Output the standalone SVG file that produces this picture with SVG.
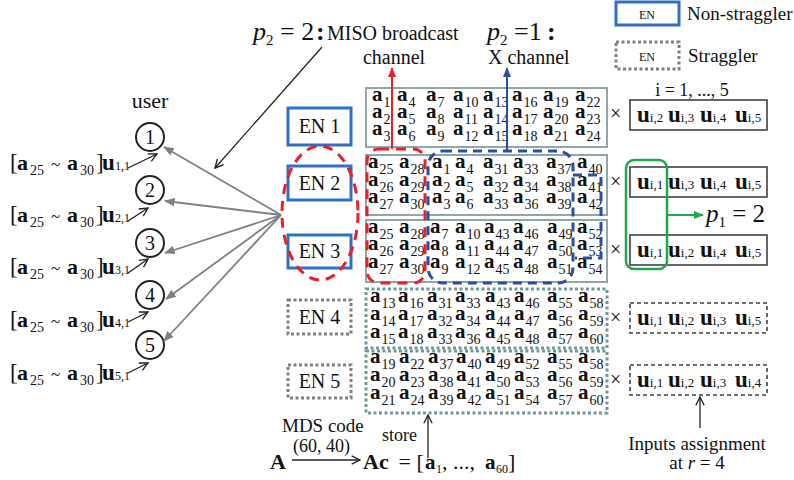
<svg xmlns="http://www.w3.org/2000/svg" width="794" height="480" viewBox="0 0 794 480" font-family="Liberation Serif, Times New Roman, DejaVu Serif, serif">
<defs>
<style>
text{font-family:"Liberation Serif","Times New Roman","DejaVu Serif",serif;fill:#111}
.g text{font-weight:bold;font-size:21px}
.g tspan{font-weight:normal;font-size:14px}
.en{fill:#fff;stroke:#2e72c2;stroke-width:3}
.st{fill:#fff;stroke:#808080;stroke-width:3;stroke-dasharray:3 2.5}
.ent{font-size:20px;text-anchor:middle}
.grid{fill:#fff;stroke:#8ea8a8;stroke-width:2}
.gridd{fill:#fff;stroke:#6f9999;stroke-width:3;stroke-dasharray:3 2.5}
.ub{fill:#fff;stroke:#404040;stroke-width:1.6}
.ubd{fill:#fff;stroke:#404040;stroke-width:1.6;stroke-dasharray:4 3}
.u text{font-weight:bold;font-size:23px}
.u tspan{font-weight:normal;font-size:13px}
.times{font-size:20px}
.lab{font-size:23px}
.lab .ab{font-weight:bold;font-size:22px}
.lab .sb{font-size:14px}
.lab .tl{font-size:17px}
.lab .ubo{font-weight:bold;font-size:23px}
.lab .su{font-size:12px}
.gray{stroke:#808080;stroke-width:1.8;fill:none}
.blk{stroke:#222;stroke-width:1.3;fill:none}
</style>
<marker id="mg" viewBox="0 0 10 10" refX="9" refY="5" markerWidth="6" markerHeight="6" orient="auto"><path d="M0,1 L10,5 L0,9 z" fill="#808080"/></marker>
<marker id="mk" viewBox="0 0 10 10" refX="9" refY="5" markerWidth="8" markerHeight="8" orient="auto"><path d="M1,1 L9,5 L1,9" fill="none" stroke="#222" stroke-width="1.3"/></marker>
<marker id="mr" viewBox="0 0 10 10" refX="9" refY="5" markerWidth="5" markerHeight="5" orient="auto"><path d="M0,1 L10,5 L0,9 z" fill="#e8202a"/></marker>
<marker id="mb" viewBox="0 0 10 10" refX="9" refY="5" markerWidth="5" markerHeight="5" orient="auto"><path d="M0,1 L10,5 L0,9 z" fill="#2a4ea6"/></marker>
<marker id="mgr" viewBox="0 0 10 10" refX="9" refY="5" markerWidth="5" markerHeight="5" orient="auto"><path d="M0,1 L10,5 L0,9 z" fill="#1faa4a"/></marker>
</defs>
<rect width="794" height="480" fill="#fff"/>

<!-- legend -->
<g id="legend">
<rect x="616" y="2" width="63" height="23" class="en"/>
<text x="647" y="19" text-anchor="middle" font-size="12">EN</text>
<text x="687" y="20" font-size="19">Non-straggler</text>
<rect x="616" y="42" width="63" height="27" class="st"/>
<text x="647" y="61" text-anchor="middle" font-size="12">EN</text>
<text x="688" y="62" font-size="19">Straggler</text>
</g>

<!-- top labels -->
<g id="labels">
<text y="40" font-size="26"><tspan x="253" font-style="italic">p</tspan><tspan font-size="15" dy="5">2</tspan><tspan dy="-5"> = 2</tspan><tspan x="316" font-weight="bold">:</tspan><tspan x="327" font-size="20">MISO broadcast</tspan></text>
<text x="394" y="64" font-size="20" text-anchor="middle">channel</text>
<text y="40" font-size="26"><tspan x="487" font-style="italic">p</tspan><tspan font-size="15" dy="5">2</tspan><tspan dy="-5"> =1</tspan><tspan x="547" font-weight="bold">:</tspan></text>
<text x="488" y="64" font-size="20">X channel</text>
<text x="150" y="108" font-size="22" text-anchor="middle">user</text>
</g>

<!-- users -->
<g id="user1"><circle cx="150" cy="137" r="14" fill="#fff" stroke="#222" stroke-width="2"/><text x="150" y="144" font-size="20" text-anchor="middle">1</text></g>
<g id="user2"><circle cx="150" cy="190" r="14" fill="#fff" stroke="#222" stroke-width="2"/><text x="150" y="197" font-size="20" text-anchor="middle">2</text></g>
<g id="user3"><circle cx="150" cy="243" r="14" fill="#fff" stroke="#222" stroke-width="2"/><text x="150" y="250" font-size="20" text-anchor="middle">3</text></g>
<g id="user4"><circle cx="150" cy="295" r="14" fill="#fff" stroke="#222" stroke-width="2"/><text x="150" y="302" font-size="20" text-anchor="middle">4</text></g>
<g id="user5"><circle cx="150" cy="345" r="14" fill="#fff" stroke="#222" stroke-width="2"/><text x="150" y="352" font-size="20" text-anchor="middle">5</text></g>

<!-- user labels -->
<g id="ulabels" class="lab">
<text y="170"><tspan x="10">[</tspan><tspan x="17" class="ab">a</tspan><tspan x="30" dy="5" class="sb">25</tspan><tspan x="51" dy="-5" class="tl">~</tspan><tspan x="67" class="ab">a</tspan><tspan x="80" dy="5" class="sb">30</tspan><tspan x="96" dy="-5">]</tspan><tspan x="102" class="ubo">u</tspan><tspan x="115" class="su">1,1</tspan></text>
<text y="222"><tspan x="10">[</tspan><tspan x="17" class="ab">a</tspan><tspan x="30" dy="5" class="sb">25</tspan><tspan x="51" dy="-5" class="tl">~</tspan><tspan x="67" class="ab">a</tspan><tspan x="80" dy="5" class="sb">30</tspan><tspan x="96" dy="-5">]</tspan><tspan x="102" class="ubo">u</tspan><tspan x="115" class="su">2,1</tspan></text>
<text y="274"><tspan x="10">[</tspan><tspan x="17" class="ab">a</tspan><tspan x="30" dy="5" class="sb">25</tspan><tspan x="51" dy="-5" class="tl">~</tspan><tspan x="67" class="ab">a</tspan><tspan x="80" dy="5" class="sb">30</tspan><tspan x="96" dy="-5">]</tspan><tspan x="102" class="ubo">u</tspan><tspan x="115" class="su">3,1</tspan></text>
<text y="327"><tspan x="10">[</tspan><tspan x="17" class="ab">a</tspan><tspan x="30" dy="5" class="sb">25</tspan><tspan x="51" dy="-5" class="tl">~</tspan><tspan x="67" class="ab">a</tspan><tspan x="80" dy="5" class="sb">30</tspan><tspan x="96" dy="-5">]</tspan><tspan x="102" class="ubo">u</tspan><tspan x="115" class="su">4,1</tspan></text>
<text y="380"><tspan x="10">[</tspan><tspan x="17" class="ab">a</tspan><tspan x="30" dy="5" class="sb">25</tspan><tspan x="51" dy="-5" class="tl">~</tspan><tspan x="67" class="ab">a</tspan><tspan x="80" dy="5" class="sb">30</tspan><tspan x="96" dy="-5">]</tspan><tspan x="102" class="ubo">u</tspan><tspan x="115" class="su">5,1</tspan></text>
</g>

<!-- EN nodes -->
<g id="en1"><rect x="288" y="108" width="63" height="37" class="en"/><text x="319.5" y="133" class="ent">EN 1</text></g>
<g id="en2"><rect x="288" y="166" width="63" height="34" class="en"/><text x="319.5" y="190" class="ent">EN 2</text></g>
<g id="en3"><rect x="288" y="235" width="63" height="33" class="en"/><text x="319.5" y="258" class="ent">EN 3</text></g>
<g id="en4"><rect x="288" y="300" width="63" height="34" class="st"/><text x="319.5" y="324" class="ent">EN 4</text></g>
<g id="en5"><rect x="288" y="365" width="63" height="33" class="st"/><text x="319.5" y="388" class="ent">EN 5</text></g>

<!-- storage grids -->
<g id="store1" class="g">
<rect x="366" y="88" width="241" height="59" class="grid"/>
<text x="372" y="101">a<tspan dx="1" dy="6">1</tspan></text><text x="372" y="118">a<tspan dx="1" dy="6">2</tspan></text><text x="372" y="135">a<tspan dx="1" dy="6">3</tspan></text>
<text x="397" y="101">a<tspan dx="1" dy="6">4</tspan></text><text x="397" y="118">a<tspan dx="1" dy="6">5</tspan></text><text x="397" y="135">a<tspan dx="1" dy="6">6</tspan></text>
<text x="426" y="101">a<tspan dx="1" dy="6">7</tspan></text><text x="426" y="118">a<tspan dx="1" dy="6">8</tspan></text><text x="426" y="135">a<tspan dx="1" dy="6">9</tspan></text>
<text x="453" y="101">a<tspan dx="1" dy="6">10</tspan></text><text x="453" y="118">a<tspan dx="1" dy="6">11</tspan></text><text x="453" y="135">a<tspan dx="1" dy="6">12</tspan></text>
<text x="483" y="101">a<tspan dx="1" dy="6">13</tspan></text><text x="483" y="118">a<tspan dx="1" dy="6">14</tspan></text><text x="483" y="135">a<tspan dx="1" dy="6">15</tspan></text>
<text x="512" y="101">a<tspan dx="1" dy="6">16</tspan></text><text x="512" y="118">a<tspan dx="1" dy="6">17</tspan></text><text x="512" y="135">a<tspan dx="1" dy="6">18</tspan></text>
<text x="543" y="101">a<tspan dx="1" dy="6">19</tspan></text><text x="543" y="118">a<tspan dx="1" dy="6">20</tspan></text><text x="543" y="135">a<tspan dx="1" dy="6">21</tspan></text>
<text x="575" y="101">a<tspan dx="1" dy="6">22</tspan></text><text x="575" y="118">a<tspan dx="1" dy="6">23</tspan></text><text x="575" y="135">a<tspan dx="1" dy="6">24</tspan></text>
</g>
<g id="store2" class="g">
<rect x="366" y="155" width="241" height="60" class="grid"/>
<text x="368" y="168">a<tspan dx="1" dy="6">25</tspan></text><text x="368" y="186">a<tspan dx="1" dy="6">26</tspan></text><text x="368" y="203">a<tspan dx="1" dy="6">27</tspan></text>
<text x="399" y="168">a<tspan dx="1" dy="6">28</tspan></text><text x="399" y="186">a<tspan dx="1" dy="6">29</tspan></text><text x="399" y="203">a<tspan dx="1" dy="6">30</tspan></text>
<text x="432" y="168">a<tspan dx="1" dy="6">1</tspan></text><text x="432" y="186">a<tspan dx="1" dy="6">2</tspan></text><text x="432" y="203">a<tspan dx="1" dy="6">3</tspan></text>
<text x="455" y="168">a<tspan dx="1" dy="6">4</tspan></text><text x="455" y="186">a<tspan dx="1" dy="6">5</tspan></text><text x="455" y="203">a<tspan dx="1" dy="6">6</tspan></text>
<text x="483" y="168">a<tspan dx="1" dy="6">31</tspan></text><text x="483" y="186">a<tspan dx="1" dy="6">32</tspan></text><text x="483" y="203">a<tspan dx="1" dy="6">33</tspan></text>
<text x="513" y="168">a<tspan dx="1" dy="6">33</tspan></text><text x="513" y="186">a<tspan dx="1" dy="6">34</tspan></text><text x="513" y="203">a<tspan dx="1" dy="6">36</tspan></text>
<text x="546" y="168">a<tspan dx="1" dy="6">37</tspan></text><text x="546" y="186">a<tspan dx="1" dy="6">38</tspan></text><text x="546" y="203">a<tspan dx="1" dy="6">39</tspan></text>
<text x="577" y="168">a<tspan dx="1" dy="6">40</tspan></text><text x="577" y="186">a<tspan dx="1" dy="6">41</tspan></text><text x="577" y="203">a<tspan dx="1" dy="6">42</tspan></text>
</g>
<g id="store3" class="g">
<rect x="366" y="220" width="241" height="62" class="grid"/>
<text x="368" y="233">a<tspan dx="1" dy="6">25</tspan></text><text x="368" y="250">a<tspan dx="1" dy="6">26</tspan></text><text x="368" y="268">a<tspan dx="1" dy="6">27</tspan></text>
<text x="399" y="233">a<tspan dx="1" dy="6">28</tspan></text><text x="399" y="250">a<tspan dx="1" dy="6">29</tspan></text><text x="399" y="268">a<tspan dx="1" dy="6">30</tspan></text>
<text x="430" y="233">a<tspan dx="1" dy="6">7</tspan></text><text x="430" y="250">a<tspan dx="1" dy="6">8</tspan></text><text x="430" y="268">a<tspan dx="1" dy="6">9</tspan></text>
<text x="455" y="233">a<tspan dx="1" dy="6">10</tspan></text><text x="455" y="250">a<tspan dx="1" dy="6">11</tspan></text><text x="455" y="268">a<tspan dx="1" dy="6">12</tspan></text>
<text x="484" y="233">a<tspan dx="1" dy="6">43</tspan></text><text x="484" y="250">a<tspan dx="1" dy="6">44</tspan></text><text x="484" y="268">a<tspan dx="1" dy="6">45</tspan></text>
<text x="513" y="233">a<tspan dx="1" dy="6">46</tspan></text><text x="513" y="250">a<tspan dx="1" dy="6">47</tspan></text><text x="513" y="268">a<tspan dx="1" dy="6">48</tspan></text>
<text x="547" y="233">a<tspan dx="1" dy="6">49</tspan></text><text x="547" y="250">a<tspan dx="1" dy="6">50</tspan></text><text x="547" y="268">a<tspan dx="1" dy="6">51</tspan></text>
<text x="577" y="233">a<tspan dx="1" dy="6">52</tspan></text><text x="577" y="250">a<tspan dx="1" dy="6">53</tspan></text><text x="577" y="268">a<tspan dx="1" dy="6">54</tspan></text>
</g>
<g id="store4" class="g">
<rect x="366" y="289" width="241" height="59" class="gridd"/>
<text x="370" y="302">a<tspan dx="1" dy="6">13</tspan></text><text x="370" y="320">a<tspan dx="1" dy="6">14</tspan></text><text x="370" y="338">a<tspan dx="1" dy="6">15</tspan></text>
<text x="398" y="302">a<tspan dx="1" dy="6">16</tspan></text><text x="398" y="320">a<tspan dx="1" dy="6">17</tspan></text><text x="398" y="338">a<tspan dx="1" dy="6">18</tspan></text>
<text x="427" y="302">a<tspan dx="1" dy="6">31</tspan></text><text x="427" y="320">a<tspan dx="1" dy="6">32</tspan></text><text x="427" y="338">a<tspan dx="1" dy="6">33</tspan></text>
<text x="455" y="302">a<tspan dx="1" dy="6">33</tspan></text><text x="455" y="320">a<tspan dx="1" dy="6">34</tspan></text><text x="455" y="338">a<tspan dx="1" dy="6">36</tspan></text>
<text x="485" y="302">a<tspan dx="1" dy="6">43</tspan></text><text x="485" y="320">a<tspan dx="1" dy="6">44</tspan></text><text x="485" y="338">a<tspan dx="1" dy="6">45</tspan></text>
<text x="514" y="302">a<tspan dx="1" dy="6">46</tspan></text><text x="514" y="320">a<tspan dx="1" dy="6">47</tspan></text><text x="514" y="338">a<tspan dx="1" dy="6">48</tspan></text>
<text x="547" y="302">a<tspan dx="1" dy="6">55</tspan></text><text x="547" y="320">a<tspan dx="1" dy="6">56</tspan></text><text x="547" y="338">a<tspan dx="1" dy="6">57</tspan></text>
<text x="578" y="302">a<tspan dx="1" dy="6">58</tspan></text><text x="578" y="320">a<tspan dx="1" dy="6">59</tspan></text><text x="578" y="338">a<tspan dx="1" dy="6">60</tspan></text>
</g>
<g id="store5" class="g">
<rect x="366" y="351" width="241" height="62" class="gridd"/>
<text x="370" y="363">a<tspan dx="1" dy="6">19</tspan></text><text x="370" y="381">a<tspan dx="1" dy="6">20</tspan></text><text x="370" y="399">a<tspan dx="1" dy="6">21</tspan></text>
<text x="399" y="363">a<tspan dx="1" dy="6">22</tspan></text><text x="399" y="381">a<tspan dx="1" dy="6">23</tspan></text><text x="399" y="399">a<tspan dx="1" dy="6">24</tspan></text>
<text x="428" y="363">a<tspan dx="1" dy="6">37</tspan></text><text x="428" y="381">a<tspan dx="1" dy="6">38</tspan></text><text x="428" y="399">a<tspan dx="1" dy="6">39</tspan></text>
<text x="456" y="363">a<tspan dx="1" dy="6">40</tspan></text><text x="456" y="381">a<tspan dx="1" dy="6">41</tspan></text><text x="456" y="399">a<tspan dx="1" dy="6">42</tspan></text>
<text x="485" y="363">a<tspan dx="1" dy="6">49</tspan></text><text x="485" y="381">a<tspan dx="1" dy="6">50</tspan></text><text x="485" y="399">a<tspan dx="1" dy="6">51</tspan></text>
<text x="514" y="363">a<tspan dx="1" dy="6">52</tspan></text><text x="514" y="381">a<tspan dx="1" dy="6">53</tspan></text><text x="514" y="399">a<tspan dx="1" dy="6">54</tspan></text>
<text x="547" y="363">a<tspan dx="1" dy="6">55</tspan></text><text x="547" y="381">a<tspan dx="1" dy="6">56</tspan></text><text x="547" y="399">a<tspan dx="1" dy="6">57</tspan></text>
<text x="578" y="363">a<tspan dx="1" dy="6">58</tspan></text><text x="578" y="381">a<tspan dx="1" dy="6">59</tspan></text><text x="578" y="399">a<tspan dx="1" dy="6">60</tspan></text>
</g>

<!-- red / blue channel outlines -->
<g id="channels" fill="none">
<ellipse cx="320" cy="213" rx="38" ry="67" stroke="#e8202a" stroke-width="3" stroke-dasharray="10 7"/>
<rect x="367" y="149" width="58" height="134" rx="12" stroke="#e8202a" stroke-width="3" stroke-dasharray="10 7"/>
<rect x="428" y="151" width="145" height="132" rx="15" stroke="#2a4ea6" stroke-width="3" stroke-dasharray="9 6"/>
<path d="M573,175 H601 V258 H575" stroke="#2a4ea6" stroke-width="3" stroke-dasharray="9 6"/>
</g>

<!-- right assignment boxes -->
<g id="times">
<text x="692" y="96" font-size="18" text-anchor="middle">i = 1, ..., 5</text>
<text x="610" y="120" class="times">×</text>
<text x="610" y="188" class="times">×</text>
<text x="610" y="256" class="times">×</text>
<text x="610" y="324" class="times">×</text>
<text x="610" y="386" class="times">×</text>
</g>
<g id="assign" class="u">
<rect x="630" y="100" width="137" height="30" class="ub"/>
<text x="637" y="122">u<tspan>i,2</tspan></text><text x="668" y="122">u<tspan>i,3</tspan></text><text x="700" y="122">u<tspan>i,4</tspan></text><text x="735" y="122">u<tspan>i,5</tspan></text>
<rect x="630" y="167" width="137" height="30" class="ub"/>
<text x="637" y="189">u<tspan>i,1</tspan></text><text x="668" y="189">u<tspan>i,3</tspan></text><text x="700" y="189">u<tspan>i,4</tspan></text><text x="735" y="189">u<tspan>i,5</tspan></text>
<rect x="630" y="235" width="137" height="30" class="ub"/>
<text x="637" y="257">u<tspan>i,1</tspan></text><text x="668" y="257">u<tspan>i,2</tspan></text><text x="700" y="257">u<tspan>i,4</tspan></text><text x="735" y="257">u<tspan>i,5</tspan></text>
<rect x="630" y="303" width="137" height="30" class="ubd"/>
<text x="637" y="325">u<tspan>i,1</tspan></text><text x="668" y="325">u<tspan>i,2</tspan></text><text x="700" y="325">u<tspan>i,3</tspan></text><text x="735" y="325">u<tspan>i,5</tspan></text>
<rect x="630" y="365" width="137" height="30" class="ubd"/>
<text x="637" y="387">u<tspan>i,1</tspan></text><text x="668" y="387">u<tspan>i,2</tspan></text><text x="700" y="387">u<tspan>i,3</tspan></text><text x="735" y="387">u<tspan>i,4</tspan></text>
</g>
<g id="p1group">
<rect x="626" y="160" width="41" height="109" rx="8" fill="none" stroke="#1faa4a" stroke-width="2.5"/>
<text x="706" y="222" font-size="25"><tspan font-style="italic">p</tspan><tspan font-size="15" dy="5">1</tspan><tspan dy="-5"> = 2</tspan></text>
</g>
<g id="bottom">
<text x="697" y="450" font-size="19" text-anchor="middle">Inputs assignment</text>
<text x="697" y="469" font-size="19" text-anchor="middle">at <tspan font-style="italic">r</tspan> = 4</text>
<text x="282" y="432" font-size="19">MDS code</text>
<text x="293" y="452" font-size="18">(60, 40)</text>
<text x="382" y="441" font-size="18">store</text>
<text x="270" y="469" font-size="22" font-weight="bold">A</text>
<text y="469" font-size="22"><tspan x="363" font-weight="bold">Ac</tspan><tspan x="393"> = [</tspan><tspan x="425" font-weight="bold" font-size="21">a</tspan><tspan x="436" dy="4" font-size="12">1</tspan><tspan x="442" dy="-4">, ..., </tspan><tspan x="485" font-weight="bold" font-size="21">a</tspan><tspan x="496" dy="4" font-size="12">60</tspan><tspan x="508" dy="-4">]</tspan></text>
</g>

<!-- connectors -->
<g id="connectors">
<line x1="392" y1="149" x2="392" y2="68" stroke="#e8202a" stroke-width="2" marker-end="url(#mr)"/>
<line x1="507" y1="151" x2="507" y2="68" stroke="#2a4ea6" stroke-width="2" marker-end="url(#mb)"/>
<line x1="322" y1="47" x2="215" y2="168" class="blk" marker-end="url(#mk)"/>
<line x1="281" y1="215" x2="164" y2="147" class="gray" marker-end="url(#mg)"/>
<line x1="281" y1="215" x2="165" y2="201" class="gray" marker-end="url(#mg)"/>
<line x1="281" y1="215" x2="165" y2="253" class="gray" marker-end="url(#mg)"/>
<line x1="281" y1="215" x2="166" y2="299" class="gray" marker-end="url(#mg)"/>
<line x1="281" y1="215" x2="164" y2="341" class="gray" marker-end="url(#mg)"/>
<line x1="128" y1="168" x2="157" y2="154" class="blk" marker-end="url(#mk)"/>
<line x1="128" y1="221" x2="148" y2="208" class="blk" marker-end="url(#mk)"/>
<line x1="128" y1="273" x2="148" y2="259" class="blk" marker-end="url(#mk)"/>
<line x1="128" y1="322" x2="148" y2="312" class="blk" marker-end="url(#mk)"/>
<line x1="128" y1="373" x2="148" y2="363" class="blk" marker-end="url(#mk)"/>
<line x1="667" y1="215" x2="703" y2="215" stroke="#1faa4a" stroke-width="2" marker-end="url(#mgr)"/>
<line x1="700" y1="428" x2="700" y2="397" class="blk" stroke-width="1.6" marker-end="url(#mk)"/>
<line x1="428" y1="458" x2="428" y2="415" class="blk" stroke-width="1.6" marker-end="url(#mk)"/>
<line x1="292" y1="460" x2="360" y2="460" class="blk" marker-end="url(#mk)"/>
</g>
</svg>
